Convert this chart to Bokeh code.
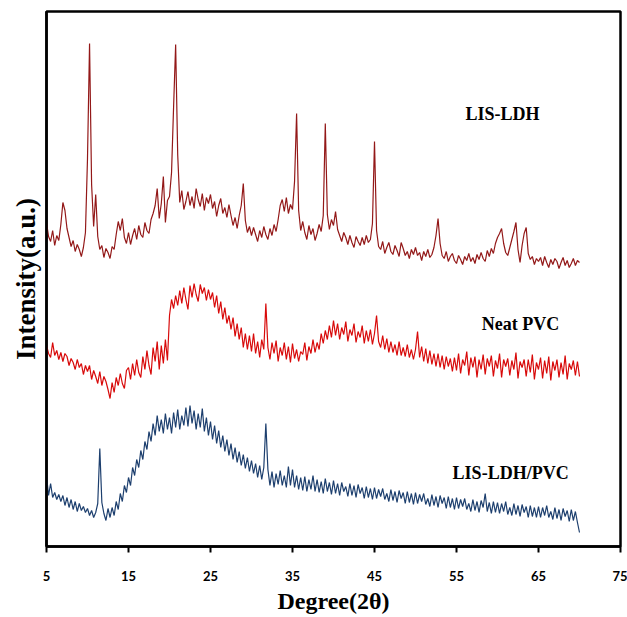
import numpy as np
from bokeh.plotting import figure
from bokeh.models import Range1d, FixedTicker, ColumnDataSource
from bokeh.core.properties import value
from bokeh.embed import file_html
from bokeh.resources import INLINE

two_theta_start = 5.0
two_theta_step = 0.25
two_theta_count = 261

# LIS-LDH intensity (a.u., offset trace), one row per 5 degrees
lis_ldh = [
    324, 310, 305, 316, 301, 311, 306, 322, 344, 336, 318, 309, 300, 306, 295, 302, 297, 290, 299, 314,
    388, 503, 362, 320, 352, 310, 297, 301, 289, 298, 294, 288, 300, 297, 312, 325, 316, 328, 309, 303,
    314, 302, 311, 318, 307, 321, 312, 309, 324, 316, 313, 327, 333, 341, 358, 328, 343, 370, 324, 346,
    350, 374, 440, 502, 392, 344, 356, 337, 345, 355, 341, 350, 338, 358, 347, 340, 353, 336, 349, 343,
    352, 338, 345, 330, 341, 348, 333, 339, 329, 342, 331, 321, 329, 318, 331, 341, 363, 326, 314, 320,
    311, 319, 312, 305, 316, 309, 320, 312, 307, 318, 311, 322, 315, 327, 341, 347, 335, 349, 333, 342,
    337, 365, 433, 336, 316, 325, 314, 307, 321, 312, 318, 306, 313, 322, 315, 331, 423, 332, 317, 327,
    321, 335, 317, 311, 305, 314, 309, 302, 311, 304, 299, 310, 305, 301, 309, 302, 311, 304, 307, 323,
    405, 316, 300, 297, 305, 293, 299, 304, 295, 292, 301, 296, 290, 304, 298, 291, 295, 288, 297, 292,
    299, 291, 294, 286, 295, 290, 297, 289, 292, 299, 311, 328, 303, 291, 288, 295, 285, 290, 293, 286,
    283, 291, 287, 282, 290, 286, 293, 285, 289, 283, 292, 287, 294, 288, 285, 296, 290, 298, 293, 303,
    309, 313, 318, 303, 294, 291, 299, 307, 315, 324, 297, 284, 301, 313, 319, 293, 287, 290, 282, 288,
    285, 289, 281, 290, 284, 279, 287, 282, 288, 285, 278, 284, 289, 281, 286, 279, 283, 288, 281, 286,
    284,
]

# Neat PVC intensity (a.u., offset trace)
neat_pvc = [
    201, 193, 189, 204, 191, 196, 187, 194, 185, 193, 190, 181, 188, 184, 177, 187, 179, 183, 172, 181,
    175, 181, 167, 176, 170, 163, 175, 161, 170, 165, 157, 148, 164, 154, 169, 161, 173, 163, 158, 176,
    179, 167, 183, 171, 187, 174, 169, 190, 177, 196, 181, 172, 199, 185, 205, 177, 201, 183, 207, 186,
    231, 247, 238, 251, 241, 256, 243, 259, 247, 237, 261, 249, 263, 252, 245, 262, 253, 259, 246, 257,
    247, 254, 239, 251, 233, 245, 227, 239, 223, 231, 217, 229, 210, 223, 207, 219, 199, 213, 197, 211,
    195, 213, 193, 205, 189, 207, 197, 243, 199, 187, 204, 193, 206, 185, 199, 191, 204, 187, 200, 184,
    203, 188, 197, 185, 195, 192, 204, 186, 200, 193, 207, 194, 204, 197, 213, 203, 216, 207, 221, 209,
    226, 211, 223, 207, 219, 212, 225, 205, 217, 211, 223, 204, 215, 209, 221, 203, 216, 205, 217, 202,
    213, 231, 205, 199, 211, 197, 208, 194, 205, 194, 202, 191, 205, 191, 199, 190, 202, 189, 197, 187,
    197, 215, 189, 200, 185, 198, 183, 196, 182, 193, 180, 193, 179, 191, 177, 190, 180, 188, 175, 189,
    176, 193, 173, 187, 181, 195, 171, 189, 179, 190, 169, 187, 177, 192, 172, 188, 180, 191, 170, 186,
    178, 193, 169, 187, 180, 188, 171, 186, 177, 194, 168, 185, 179, 187, 170, 187, 174, 192, 167, 184,
    177, 189, 168, 186, 173, 190, 166, 185, 176, 187, 169, 184, 172, 191, 167, 183, 177, 186, 171, 185,
    170,
]

# LIS-LDH/PVC intensity (a.u., offset trace)
lis_ldh_pvc = [
    71, 51, 63, 49, 54, 47, 52, 45, 51, 41, 49, 39, 47, 37, 45, 35, 43, 36, 40, 34,
    38, 31, 36, 29, 34, 43, 98, 44, 33, 26, 38, 29, 39, 31, 45, 37, 53, 45, 61, 54,
    69, 61, 79, 71, 87, 79, 96, 87, 105, 97, 115, 105, 123, 111, 131, 115, 127, 113, 133, 117,
    129, 113, 134, 119, 137, 117, 131, 121, 139, 120, 141, 123, 136, 117, 133, 119, 138, 115, 129, 111,
    125, 107, 121, 103, 116, 99, 111, 95, 107, 91, 103, 87, 99, 84, 95, 81, 92, 78, 89, 75,
    86, 73, 83, 69, 81, 67, 79, 123, 77, 61, 75, 59, 73, 62, 76, 61, 71, 59, 80, 61,
    77, 59, 71, 57, 69, 56, 70, 55, 67, 57, 71, 55, 67, 54, 65, 53, 68, 55, 64, 52,
    66, 53, 63, 51, 64, 55, 60, 50, 63, 51, 61, 49, 62, 53, 59, 48, 60, 49, 58, 47,
    59, 48, 57, 50, 58, 47, 53, 45, 57, 46, 55, 44, 56, 48, 54, 43, 55, 44, 53, 42,
    54, 43, 52, 45, 53, 42, 48, 40, 52, 41, 50, 39, 51, 43, 49, 38, 50, 39, 48, 37,
    49, 38, 47, 40, 48, 37, 43, 35, 47, 36, 45, 34, 46, 39, 53, 35, 44, 33, 45, 34,
    44, 33, 43, 35, 45, 32, 39, 31, 43, 32, 41, 30, 42, 34, 40, 29, 41, 30, 39, 29,
    40, 29, 39, 31, 41, 29, 35, 27, 39, 28, 37, 26, 38, 30, 36, 25, 37, 26, 35, 24,
    14,
]

series_names = ["LIS-LDH", "Neat PVC", "LIS-LDH/PVC"]
series_colors = ["#931818", "#d80a0a", "#1d3f6e"]
label_x = [60.6, 62.8, 61.6]
label_y = [433, 223, 74]

x_ticks = [5, 15, 25, 35, 45, 55, 65, 75]

two_theta = two_theta_start + two_theta_step * np.arange(two_theta_count)

p = figure(width=627, height=617, output_backend="svg", toolbar_location=None,
           x_range=Range1d(5, 75), y_range=Range1d(0, 535),
           min_border_left=46, min_border_right=7, min_border_top=11, min_border_bottom=71)

p.background_fill_color = "white"
p.border_fill_color = "white"
p.outline_line_color = "black"
p.outline_line_width = 2.5
p.xgrid.visible = False
p.ygrid.visible = False

for ys, col in zip([lis_ldh, neat_pvc, lis_ldh_pvc], series_colors):
    p.line(two_theta, ys, line_color=col, line_width=1.2)

src = ColumnDataSource(dict(x=label_x, y=label_y, t=series_names))
p.text(x="x", y="y", text="t", source=src, text_font=value("Liberation Serif"),
       text_font_style="bold", text_font_size="18px", text_color="black",
       text_align="center", text_baseline="middle")

# x axis
xa = p.xaxis[0]
xa.ticker = FixedTicker(ticks=x_ticks)
xa.axis_line_width = 2.5
xa.axis_line_color = "black"
xa.major_tick_line_width = 2
xa.major_tick_in = 0
xa.major_tick_out = 6
xa.minor_tick_line_color = None
xa.major_label_text_font = "Lato"
xa.major_label_text_font_style = "bold"
xa.major_label_text_font_size = "13px"
xa.major_label_text_color = "black"
xa.major_label_standoff = 18
xa.axis_label = "Degree(2θ)"
xa.axis_label_text_font = "Liberation Serif"
xa.axis_label_text_font_style = "bold"
xa.axis_label_text_font_size = "24px"
xa.axis_label_text_color = "black"
xa.axis_label_standoff = 4

# y axis (no ticks, no tick labels)
ya = p.yaxis[0]
ya.ticker = FixedTicker(ticks=[])
ya.axis_line_width = 2.5
ya.axis_line_color = "black"
ya.major_tick_line_color = None
ya.minor_tick_line_color = None
ya.major_tick_out = 0
ya.major_tick_in = 0
ya.major_label_standoff = 0
ya.axis_label = "Intensity(a.u.)"
ya.axis_label_text_font = "Liberation Serif"
ya.axis_label_text_font_style = "bold"
ya.axis_label_text_font_size = "27px"
ya.axis_label_text_color = "black"
ya.axis_label_standoff = 6

open("out.html", "w").write(file_html(p, INLINE))
